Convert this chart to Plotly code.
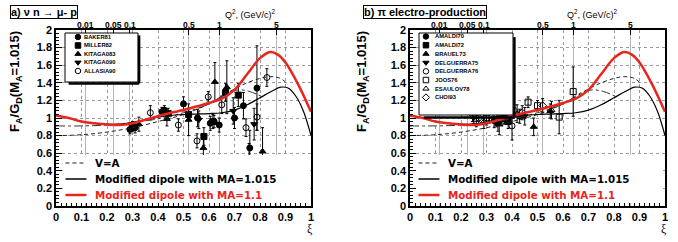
import plotly.graph_objects as go

W, H = 678, 242

# ---------------- model curves (same in both panels) ----------------
red_xi = [0, 0.05, 0.1, 0.15, 0.2, 0.25, 0.3, 0.35, 0.4, 0.45, 0.5, 0.55, 0.6, 0.65, 0.7, 0.75, 0.8, 0.84, 0.87, 0.9, 0.95, 1.0]
red_ma11 = [1.03, 1.0, 0.96, 0.94, 0.925, 0.92, 0.94, 0.98, 1.02, 1.06, 1.09, 1.13, 1.17, 1.22, 1.32, 1.5, 1.68, 1.75, 1.72, 1.63, 1.38, 1.07]
blk_xi = [0, 0.05, 0.1, 0.15, 0.2, 0.25, 0.3, 0.35, 0.4, 0.45, 0.5, 0.55, 0.6, 0.65, 0.7, 0.75, 0.8, 0.85, 0.88, 0.91, 0.94, 0.97, 1.0]
blk_ma1015 = [1.03, 1.0, 0.96, 0.94, 0.93, 0.93, 0.95, 0.98, 1.01, 1.03, 1.04, 1.045, 1.05, 1.06, 1.09, 1.15, 1.23, 1.31, 1.35, 1.34, 1.25, 1.08, 0.80]
va_xi = [0, 0.1, 0.2, 0.3, 0.4, 0.5, 0.6, 0.65, 0.7, 0.75, 0.8, 0.84, 0.88, 0.91]
va_curve = [0.80, 0.81, 0.84, 0.89, 0.96, 1.04, 1.16, 1.24, 1.33, 1.40, 1.45, 1.47, 1.45, 1.38]
dd_xi = [0, 0.1, 0.2, 0.3, 0.4, 0.5, 0.6, 0.65, 0.68, 0.72, 0.76, 0.81]
dd_curve = [0.91, 0.91, 0.92, 0.95, 0.99, 1.06, 1.16, 1.25, 1.30, 1.32, 1.30, 1.24]

curve_labels = ["V=A", "Modified dipole with MA=1.015", "Modified dipole with MA=1.1"]

# ---------------- top Q^2 axis ----------------
q2_pos = [0.114, 0.227, 0.29, 0.52, 0.64, 0.866]
q2_labels = ["0.01", "0.05", "0.1", "0.5", "1", "5"]

# ---------------- panel a: nu n -> mu- p ----------------
baker81_xi = [0.29, 0.30, 0.31, 0.415, 0.425, 0.50, 0.555, 0.605, 0.62, 0.64, 0.70, 0.735, 0.76, 0.788]
baker81_v = [0.87, 0.91, 0.89, 1.07, 1.09, 1.16, 1.00, 0.94, 0.96, 0.92, 1.00, 1.14, 0.66, 1.34]
baker81_e = [0.05, 0.05, 0.06, 0.05, 0.05, 0.08, 0.10, 0.08, 0.07, 0.08, 0.12, 0.15, 0.20, 0.48]
miller82_xi = [0.30, 0.44, 0.52, 0.58, 0.615, 0.665, 0.715, 0.757]
miller82_v = [0.90, 1.05, 1.04, 0.79, 0.96, 1.29, 1.26, 0.46]
miller82_e = [0.05, 0.06, 0.07, 0.10, 0.08, 0.10, 0.13, 0.25]
kitaga083_xi = [0.325, 0.435, 0.52, 0.578, 0.623, 0.67, 0.81]
kitaga083_v = [0.93, 0.99, 0.98, 0.66, 1.41, 1.35, 0.62]
kitaga083_e = [0.08, 0.08, 0.18, 0.13, 0.22, 0.30, 0.27]
kitaga090_xi = [0.56, 0.695, 0.777]
kitaga090_v = [0.98, 1.08, 0.93]
kitaga090_e = [0.10, 0.15, 0.18]
allasia90_xi = [0.37, 0.48, 0.553, 0.597, 0.65, 0.745, 0.788, 0.827]
allasia90_v = [1.06, 0.92, 0.74, 1.24, 1.15, 0.89, 1.01, 1.46]
allasia90_e = [0.08, 0.07, 0.08, 0.06, 0.10, 0.10, 0.15, 0.10]

# ---------------- panel b: pi electro-production ----------------
amaldi70_xi = [0.33, 0.37, 0.43]
amaldi70_v = [0.97, 1.00, 1.02]
amaldi70_e = [0.08, 0.07, 0.08]
amaldi72_xi = [0.345, 0.36, 0.385]
amaldi72_v = [0.95, 0.99, 0.96]
amaldi72_e = [0.10, 0.08, 0.08]
brauel73_xi = [0.35, 0.485, 0.55]
brauel73_v = [0.93, 0.90, 1.08]
brauel73_e = [0.12, 0.10, 0.08]
delguerra75_xi = [0.34, 0.45]
delguerra75_v = [1.00, 1.02]
delguerra75_e = [0.10, 0.10]
delguerra76_xi = [0.25, 0.38, 0.40]
delguerra76_v = [1.02, 1.07, 0.91]
delguerra76_e = [0.08, 0.08, 0.16]
joos76_xi = [0.30, 0.463, 0.50, 0.585, 0.64]
joos76_v = [1.00, 1.18, 1.14, 1.01, 1.30]
joos76_e = [0.08, 0.06, 0.06, 0.19, 0.28]
esaulov78_xi = [0.26, 0.29, 0.42, 0.555]
esaulov78_v = [0.98, 0.96, 1.05, 1.09]
esaulov78_e = [0.08, 0.08, 0.10, 0.10]
choi93_xi = [0.245, 0.27, 0.31, 0.41, 0.44, 0.52]
choi93_v = [1.04, 1.00, 1.03, 1.08, 1.06, 1.14]
choi93_e = [0.08, 0.07, 0.06, 0.07, 0.08, 0.08]

names_a = ["BAKER81", "MILLER82", "KITAGA083", "KITAGA090", "ALLASIA90"]
names_b = ["AMALDI70", "AMALDI72", "BRAUEL73", "DELGUERRA75", "DELGUERRA76", "JOOS76", "ESAULOV78", "CHOI93"]

series_a = [(baker81_xi, baker81_v, baker81_e, "circle"),
            (miller82_xi, miller82_v, miller82_e, "square"),
            (kitaga083_xi, kitaga083_v, kitaga083_e, "triangle-up"),
            (kitaga090_xi, kitaga090_v, kitaga090_e, "triangle-down"),
            (allasia90_xi, allasia90_v, allasia90_e, "circle-open")]
series_b = [(amaldi70_xi, amaldi70_v, amaldi70_e, "circle"),
            (amaldi72_xi, amaldi72_v, amaldi72_e, "square"),
            (brauel73_xi, brauel73_v, brauel73_e, "triangle-up"),
            (delguerra75_xi, delguerra75_v, delguerra75_e, "triangle-down"),
            (delguerra76_xi, delguerra76_v, delguerra76_e, "circle-open"),
            (joos76_xi, joos76_v, joos76_e, "square-open"),
            (esaulov78_xi, esaulov78_v, esaulov78_e, "triangle-up-open"),
            (choi93_xi, choi93_v, choi93_e, "diamond-open")]

RED = "#e8261c"
FONT = "Liberation Sans"
WIDE = "DejaVu Sans"

fig = go.Figure()
layout = dict(width=W, height=H, autosize=False, margin=dict(l=0, r=0, t=0, b=0),
              paper_bgcolor="white", plot_bgcolor="white", showlegend=False,
              annotations=[], shapes=[])


def px_x(p):
    return p / W


def px_y(p):
    return 1 - p / H


panels = [
    dict(x0=56, x1=311, xa="x", ya="y", top="x3", legx="x5", legy="y5", cx="x7", cy="y7",
         names=names_a, series=series_a, box=(65, 138, 33, 82), mark=0.178, txt=0.233,
         yr=[5.3, -0.47], title="a) ν n → μ- p", tbox=10, ytitle=15, q2=278,
         cbox=(63, 310)),
    dict(x0=410, x1=665, xa="x2", ya="y2", top="x4", legx="x6", legy="y6", cx="x8", cy="y8",
         names=names_b, series=series_b, box=(419, 513, 33, 115), mark=0.074, txt=0.149,
         yr=[9.02, -0.40], title="b) π electro-production", tbox=363, ytitle=362, q2=620,
         cbox=(416, 663)),
]

tickfont = dict(family=FONT, size=11, color="black", weight="bold")

for p in panels:
    xa, ya = p["xa"], p["ya"]
    xkey = "xaxis" + xa[1:]
    ykey = "yaxis" + ya[1:]
    xdom = [px_x(p["x0"]), px_x(p["x1"])]
    ydom = [px_y(206), px_y(30)]
    layout[xkey] = dict(domain=xdom, range=[0, 1], anchor=ya, dtick=0.1, tick0=0,
                        ticks="inside", ticklen=6, tickcolor="black", showline=True,
                        linecolor="black", linewidth=1.5, mirror=True, tickangle=0,
                        automargin=False,
                        showgrid=True, gridcolor="#9a9a9a", griddash="dot", gridwidth=1,
                        tickfont=tickfont, zeroline=False,
                        minor=dict(ticks="inside", ticklen=3, dtick=0.02, tickcolor="black", showgrid=False))
    layout[ykey] = dict(domain=ydom, range=[0, 2], anchor=xa, dtick=0.2, tick0=0,
                        ticks="inside", ticklen=6, tickcolor="black", showline=True,
                        linecolor="black", linewidth=1.5, mirror=True, automargin=False,
                        showgrid=True, gridcolor="#9a9a9a", griddash="dot", gridwidth=1,
                        tickfont=tickfont, zeroline=False,
                        minor=dict(ticks="inside", ticklen=3, dtick=0.04, tickcolor="black", showgrid=False))
    tkey = "xaxis" + p["top"][1:]
    layout[tkey] = dict(overlaying=xa, side="top", anchor=ya, range=[0, 1], tickmode="array",
                        tickvals=q2_pos, ticktext=q2_labels, ticks="inside", ticklen=5,
                        tickcolor="black", showline=False, showgrid=True, gridcolor="#b5b5b5",
                        gridwidth=1, zeroline=False, showticklabels=False, automargin=False)
    fig.add_trace(go.Scatter(x=[0, 1], y=[0, 0], xaxis=p["top"], yaxis=ya, mode="markers",
                             marker=dict(opacity=0), hoverinfo="skip", showlegend=False))
    # top-axis labels placed just above the frame
    for qv, ql in zip(q2_pos, q2_labels):
        layout["annotations"].append(dict(
            text=ql, x=qv, y=px_y(24.5), xref=p["top"], yref="paper", xanchor="center",
            yanchor="middle", showarrow=False,
            font=dict(family=FONT, size=8.5, color="black", weight="bold")))

    # data points
    for (sx, sv, se, sym), nm in zip(p["series"], p["names"]):
        fig.add_trace(go.Scatter(
            x=sx, y=sv, xaxis=xa, yaxis=ya, mode="markers", name=nm,
            marker=dict(symbol=sym, size=6, color="black", line=dict(color="black", width=1)),
            error_y=dict(type="data", array=se, color="black", thickness=1, width=1.5)))

    # model curves
    fig.add_trace(go.Scatter(x=dd_xi, y=dd_curve, xaxis=xa, yaxis=ya, mode="lines",
                             line=dict(color="#333", width=1, dash="dashdot", shape="spline")))
    fig.add_trace(go.Scatter(x=va_xi, y=va_curve, xaxis=xa, yaxis=ya, mode="lines",
                             line=dict(color="#222", width=1, dash="4px,3px", shape="spline")))
    fig.add_trace(go.Scatter(x=blk_xi, y=blk_ma1015, xaxis=xa, yaxis=ya, mode="lines",
                             line=dict(color="black", width=1.2, shape="spline")))
    fig.add_trace(go.Scatter(x=red_xi, y=red_ma11, xaxis=xa, yaxis=ya, mode="lines",
                             line=dict(color=RED, width=2.5, shape="spline")))

    # data legend box (own hidden axis spanning the box)
    bx0, bx1, by0, by1 = p["box"]
    lx, ly = "xaxis" + p["legx"][1:], "yaxis" + p["legy"][1:]
    layout[lx] = dict(domain=[px_x(bx0), px_x(bx1)], range=[0, 1], visible=False, anchor=p["legy"])
    layout[ly] = dict(domain=[px_y(by1), px_y(by0)], range=p["yr"], visible=False, anchor=p["legx"])
    n = len(p["names"])
    fig.add_trace(go.Scatter(
        x=[p["mark"]] * n, y=list(range(n)), xaxis=p["legx"], yaxis=p["legy"], mode="markers",
        marker=dict(symbol=[s[3] for s in p["series"]], size=5.5, color="black",
                    line=dict(color="black", width=1)), hoverinfo="skip"))
    for i, nm in enumerate(p["names"]):
        layout["annotations"].append(dict(
            text=nm, x=p["txt"], y=i, xref=p["legx"], yref=p["legy"], xanchor="left",
            yanchor="middle", showarrow=False,
            font=dict(family=FONT, size=5.8, color="black", weight="bold")))
    dref_x, dref_y = p["legx"] + " domain", p["legy"] + " domain"
    layout["shapes"].append(dict(type="rect", xref=dref_x, yref=dref_y, x0=0, x1=1, y0=0, y1=1,
                                 line=dict(color="black", width=1)))
    layout["shapes"].append(dict(type="line", xref=dref_x, yref=dref_y, x0=1.015, x1=1.015,
                                 y0=-0.03, y1=0.95, line=dict(color="black", width=2.5)))
    layout["shapes"].append(dict(type="line", xref=dref_x, yref=dref_y, x0=0.05, x1=1.015,
                                 y0=-0.03, y1=-0.03, line=dict(color="black", width=2.5)))

    # curve legend (own hidden axis)
    cx0, cx1 = p["cbox"]
    ckx, cky = "xaxis" + p["cx"][1:], "yaxis" + p["cy"][1:]
    layout[ckx] = dict(domain=[px_x(cx0), px_x(cx1)], range=[0, 10], visible=False, anchor=p["cy"])
    layout[cky] = dict(domain=[px_y(203), px_y(155)], range=[-0.5, 2.5], visible=False, anchor=p["cx"])
    styles = [dict(color="#222", width=1.2, dash="4px,3px"), dict(color="black", width=1.5),
              dict(color=RED, width=2.5)]
    colors = ["black", "black", RED]
    for i, (lab, st) in enumerate(zip(curve_labels, styles)):
        k = len(curve_labels) - 1 - i
        fig.add_trace(go.Scatter(x=[0.1, 0.95], y=[k, k], xaxis=p["cx"], yaxis=p["cy"],
                                 mode="lines", line=st, hoverinfo="skip"))
        layout["annotations"].append(dict(
            text=lab, x=1.2, y=k, xref=p["cx"], yref=p["cy"], xanchor="left", yanchor="middle",
            showarrow=False, font=dict(family=WIDE, size=10.3, color=colors[i], weight="bold")))

    # panel title box
    layout["annotations"].append(dict(
        text=p["title"], x=px_x(p["tbox"]), y=px_y(5), xref="paper", yref="paper",
        xanchor="left", yanchor="top", showarrow=False, bgcolor="white",
        bordercolor="black", borderwidth=1, borderpad=0,
        font=dict(family=FONT, size=11, color="black", weight="bold")))
    # y title
    layout["annotations"].append(dict(
        text="F<sub>A</sub>/G<sub>D</sub>(M<sub>A</sub>=1.015)", x=px_x(p["ytitle"]), y=px_y(82),
        xref="paper", yref="paper", xanchor="center", yanchor="middle", textangle=-90,
        showarrow=False, font=dict(family=FONT, size=13, color="black", weight="bold")))
    # top axis title
    layout["annotations"].append(dict(
        text="Q<sup>2</sup>, (GeV/c)<sup>2</sup>", x=px_x(p["q2"]), y=px_y(14), xref="paper",
        yref="paper", xanchor="right", yanchor="middle", showarrow=False,
        font=dict(family=FONT, size=9, color="black")))
    # xi axis title
    layout["annotations"].append(dict(
        text="ξ", x=px_x(p["x1"] - 1), y=px_y(229), xref="paper", yref="paper",
        xanchor="center", yanchor="middle", showarrow=False,
        font=dict(family="Liberation Serif", size=12, color="black")))

for tr in fig.data:
    tr.showlegend = False

fig.update_layout(**layout)
fig.write_html("out.html", config={"displayModeBar": False},
               post_script="document.body.style.margin='0';document.body.style.padding='0';")
